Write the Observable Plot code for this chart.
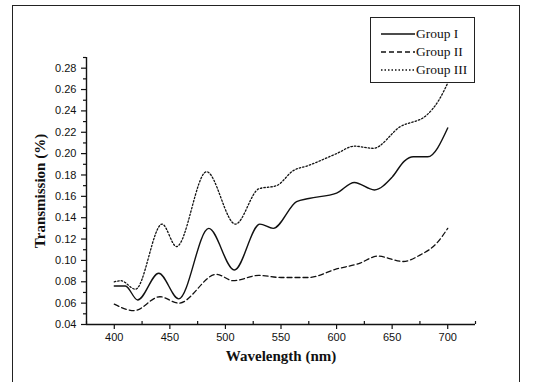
<!DOCTYPE html>
<html>
<head>
<meta charset="utf-8">
<script src="https://cdn.jsdelivr.net/npm/d3@7"></script>
<script src="https://cdn.jsdelivr.net/npm/@observablehq/plot@0.6"></script>
<style>
  body { margin: 0; background: #fff; }
  #wrap { position: relative; width: 543px; height: 382px; overflow: hidden; background: #fff; }
  #border { position: absolute; left: 12px; top: 5px; width: 508px; height: 390px; border: 1.5px solid #222; box-sizing: border-box; pointer-events: none; }
  #legend { position: absolute; left: 370px; top: 17px; width: 105px; height: 66px; border: 1px solid #222; background: #fff; box-sizing: border-box; font-family: "Liberation Serif", serif; font-size: 13.5px; color: #111; }
  .row { position: absolute; left: 10px; height: 16px; display: flex; align-items: center; }
  .row svg { margin-right: 1px; }
</style>
</head>
<body>
<div id="wrap">
  <div id="chart"></div>
  <div id="border"></div>
  <div id="legend"></div>
</div>
<script>
// Series names
const seriesNames = ["Group I", "Group II", "Group III"];

// Group I (solid)
const group1X = [400, 410, 421, 440, 458, 485, 508, 531, 543, 564, 575, 600, 616, 634, 650, 661, 669, 682, 700];
const group1Y = [0.076, 0.076, 0.063, 0.088, 0.064, 0.130, 0.091, 0.134, 0.130, 0.155, 0.158, 0.163, 0.173, 0.166, 0.178, 0.193, 0.197, 0.197, 0.224];

// Group II (dashed)
const group2X = [400, 418, 441, 458, 492, 507, 530, 550, 575, 600, 620, 637, 660, 675, 690, 700];
const group2Y = [0.059, 0.053, 0.066, 0.060, 0.087, 0.081, 0.086, 0.084, 0.084, 0.092, 0.097, 0.104, 0.099, 0.105, 0.116, 0.130];

// Group III (dotted)
const group3X = [400, 406, 419, 443, 456, 483, 509, 530, 546, 561, 575, 600, 616, 633, 657, 681, 692, 700];
const group3Y = [0.080, 0.081, 0.073, 0.134, 0.113, 0.183, 0.134, 0.167, 0.170, 0.184, 0.189, 0.200, 0.207, 0.205, 0.225, 0.236, 0.250, 0.266];

// Ticks
const xMajorTicks = [400, 450, 500, 550, 600, 650, 700];
const xMinorTicks = [375, 425, 475, 525, 575, 625, 675, 725];
const xTickLabels = ["400", "450", "500", "550", "600", "650", "700"];
const yMajorTicks = [0.04, 0.06, 0.08, 0.10, 0.12, 0.14, 0.16, 0.18, 0.20, 0.22, 0.24, 0.26, 0.28];
const yMinorTicks = [0.05, 0.07, 0.09, 0.11, 0.13, 0.15, 0.17, 0.19, 0.21, 0.23, 0.25, 0.27, 0.29];

const dashes = ["none", "5,3", "1.5,2"];

const toRows = (xs, ys, name) => xs.map((x, i) => ({x, y: ys[i], name}));
const s1 = toRows(group1X, group1Y, seriesNames[0]);
const s2 = toRows(group2X, group2Y, seriesNames[1]);
const s3 = toRows(group3X, group3Y, seriesNames[2]);

const serif = "'Liberation Serif', 'Times New Roman', serif";

const chart = Plot.plot({
  width: 543,
  height: 382,
  marginLeft: 86,
  marginRight: 68,
  marginTop: 57,
  marginBottom: 58,
  style: { fontFamily: "'Liberation Sans', Arial, sans-serif", fontSize: "11px", background: "transparent", color: "#111" },
  x: { domain: [375, 725] },
  y: { domain: [0.04, 0.29] },
  marks: [
    Plot.axisX({ ticks: xMinorTicks, tickFormat: () => "", tickSize: -3, label: null, strokeWidth: 1.2 }),
    Plot.axisX({ ticks: xMajorTicks, tickFormat: (d) => xTickLabels[xMajorTicks.indexOf(d)], tickSize: 5, tickPadding: 4, label: null, strokeWidth: 1.2 }),
    Plot.axisY({ ticks: yMinorTicks, tickFormat: () => "", tickSize: 3, label: null, strokeWidth: 1.2 }),
    Plot.axisY({ ticks: yMajorTicks, tickFormat: d3.format(".2f"), tickSize: 5, tickPadding: 5, label: null, strokeWidth: 1.2 }),
    Plot.ruleY([0.04], { stroke: "#111", strokeWidth: 1.4 }),
    Plot.ruleX([375], { stroke: "#111", strokeWidth: 1.4 }),
    Plot.line(s1, { x: "x", y: "y", curve: "monotone-x", stroke: "#111", strokeWidth: 1.4 }),
    Plot.line(s2, { x: "x", y: "y", curve: "monotone-x", stroke: "#111", strokeWidth: 1.3, strokeDasharray: dashes[1] }),
    Plot.line(s3, { x: "x", y: "y", curve: "monotone-x", stroke: "#111", strokeWidth: 1.3, strokeDasharray: dashes[2] }),
    Plot.text(["Transmission (%)"], { frameAnchor: "left", textAnchor: "middle", rotate: -90, dx: -46, fontFamily: serif, fontWeight: "bold", fontSize: 15, fill: "#111" }),
    Plot.text(["Wavelength (nm)"], { frameAnchor: "bottom", dy: 36, fontFamily: serif, fontWeight: "bold", fontSize: 15, fill: "#111" })
  ]
});
document.getElementById("chart").appendChild(chart);

// Legend
const legend = document.getElementById("legend");
seriesNames.forEach((name, i) => {
  const row = document.createElement("div");
  row.className = "row";
  row.style.top = (8 + i * 18) + "px";
  const ns = "http://www.w3.org/2000/svg";
  const svg = document.createElementNS(ns, "svg");
  svg.setAttribute("width", 34);
  svg.setAttribute("height", 10);
  const ln = document.createElementNS(ns, "line");
  ln.setAttribute("x1", 0); ln.setAttribute("x2", 34);
  ln.setAttribute("y1", 5); ln.setAttribute("y2", 5);
  ln.setAttribute("stroke", "#111");
  ln.setAttribute("stroke-width", 1.3);
  if (dashes[i] !== "none") ln.setAttribute("stroke-dasharray", dashes[i]);
  svg.appendChild(ln);
  row.appendChild(svg);
  const t = document.createElement("span");
  t.textContent = name;
  row.appendChild(t);
  legend.appendChild(row);
});
</script>
</body>
</html>
